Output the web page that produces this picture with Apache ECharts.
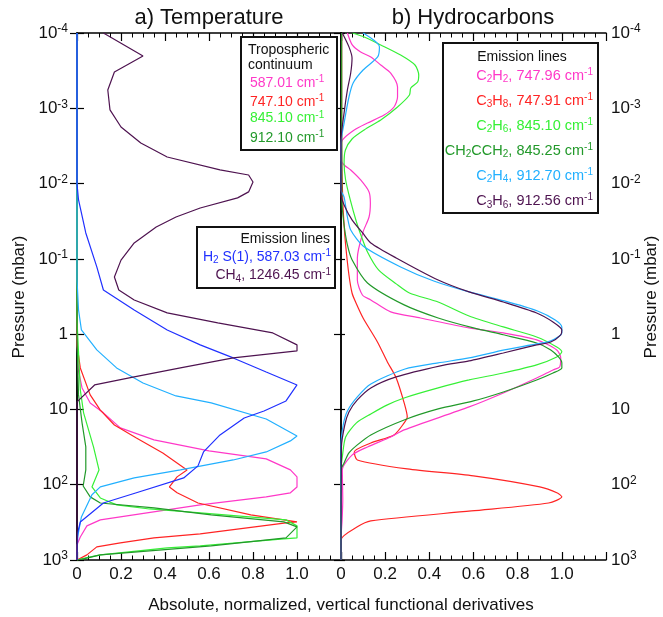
<!DOCTYPE html>
<html>
<head>
<meta charset="utf-8">
<script src="https://cdn.jsdelivr.net/npm/echarts@6/dist/echarts.min.js"></script>
<style>
  html, body { margin: 0; padding: 0; background: #fff; }
  #chart { width: 663px; height: 617px; }
</style>
</head>
<body>
<div id="chart"></div>
<script>
const FONT = '"Liberation Sans", Arial, Helvetica, sans-serif';

// Each profile: [normalized derivative, pressure (mbar)]

// (a) Temperature — tropospheric continuum
const tTrop587 = [[0,1e-4],[0,1.19],[0.006,2.99],[0.023,5.18],[0.06,8.2],[0.12,11.1],[0.197,17.6],[0.35,25.4],[0.6,35.6],[0.86,45.4],[0.97,63.6],[1.0,78.7],[1.0,107],[0.97,128],[0.86,145],[0.56,185],[0.106,293],[0.045,352],[0.015,494],[0,630],[0,1000]];
const tTrop747 = [[0,1e-4],[0,1.39],[0.015,2.81],[0.06,6.41],[0.106,10.2],[0.17,16.1],[0.27,23.9],[0.39,37.8],[0.5,63.6],[0.455,78.7],[0.42,107],[0.455,128],[0.55,175],[0.79,252],[1.0,312],[0.95,321],[0.56,450],[0.35,509],[0.197,593],[0.09,670],[0.045,855],[0,1000]];
const tTrop845 = [[0,1e-4],[0,0.647],[0.015,5.51],[0.03,11.1],[0.075,31.5],[0.1,63.6],[0.068,107],[0.106,150],[0.18,185],[0.33,210],[0.56,237],[0.95,293],[1.0,352],[1.0,509],[0.94,525],[0.56,650],[0.41,690],[0.106,855],[0.04,937],[0,1000]];
const tTrop912 = [[0,1e-4],[0,1.19],[0.007,6.41],[0.023,15.1],[0.04,31.5],[0.04,63.6],[0.028,104],[0.06,145],[0.106,175],[0.35,203],[0.61,252],[0.94,312],[1.0,363],[0.95,509],[0.61,650],[0.106,855],[0.03,966],[0,1000]];
// (a) Temperature — emission lines
const tH2S1 = [[0,1e-4],[0,1.01e-2],[0.007,1.65e-2],[0.04,4.53e-2],[0.09,0.128],[0.12,0.259],[0.26,0.478],[0.41,0.879],[0.56,1.39],[0.71,2.07],[0.86,3.18],[1.0,4.73],[0.95,7.71],[0.85,10.5],[0.76,13.0],[0.65,21.8],[0.575,36.7],[0.55,56.2],[0.485,81.3],[0.27,128],[0.12,175],[0.015,312],[0.003,437],[0,1000]];
const tH2Wing = [[0,1e-4],[0,0.19],[0.007,0.478],[0.02,0.879],[0.09,1.62],[0.18,2.81],[0.3,4.45],[0.45,6.62],[0.61,8.2],[0.86,13.4],[1.0,22.5],[0.97,26.2],[0.86,36.7],[0.71,46.9],[0.47,63.6],[0.26,81.3],[0.106,107],[0.068,136],[0.02,268],[0.003,494],[0,1000]];
const tCH4 = [[0.12,1e-4],[0.3,2.02e-4],[0.17,3.3e-4],[0.14,5.71e-4],[0.15,1.05e-3],[0.2,1.77e-3],[0.29,2.89e-3],[0.41,4.44e-3],[0.65,6.59e-3],[0.78,7.69e-3],[0.8,9.53e-3],[0.78,1.29e-2],[0.73,1.55e-2],[0.56,2.11e-2],[0.45,2.78e-2],[0.36,3.77e-2],[0.26,6.15e-2],[0.2,0.104],[0.17,0.174],[0.19,0.259],[0.26,0.352],[0.41,0.522],[0.64,0.71],[0.89,0.964],[1.0,1.39],[1.0,1.67],[0.71,2.07],[0.47,2.81],[0.26,3.7],[0.08,4.73],[0,7.94],[0,1000]];

// (b) Hydrocarbons — emission lines
const hC2H2 = [[0.029,1e-4],[0.051,1.44e-4],[0.089,1.79e-4],[0.135,2.08e-4],[0.18,2.66e-4],[0.225,3.4e-4],[0.256,5.21e-4],[0.256,7.08e-4],[0.24,9.61e-4],[0.195,1.23e-3],[0.12,1.57e-3],[0.06,1.94e-3],[0.006,2.64e-3],[0,3.27e-3],[0,4.86e-3],[0.014,5.66e-3],[0.044,6.6e-3],[0.089,8.96e-3],[0.127,1.29e-2],[0.133,1.81e-2],[0.127,2.78e-2],[0.1,4.39e-2],[0.074,9.73e-2],[0.074,0.191],[0.097,0.302],[0.135,0.351],[0.225,0.507],[0.36,0.61],[0.58,0.827],[0.735,0.964],[0.886,1.19],[0.977,1.62],[0.995,2.07],[0.99,2.73],[0.96,2.99],[0.886,3.82],[0.735,6.04],[0.58,9.26],[0.286,18.7],[0.225,23.2],[0.12,31.5],[0.051,40.2],[0.006,63.6],[0.008,159],[0.005,293],[0,541],[0,1000]];
const hC3H8 = [[0.003,1e-4],[0.003,3.58e-3],[0.008,1.65e-2],[0.014,3.55e-2],[0.021,6.54e-2],[0.036,0.164],[0.05,0.284],[0.066,0.374],[0.1,0.61],[0.165,1.27],[0.21,2.34],[0.25,3.82],[0.286,8.2],[0.3,12.6],[0.286,15.1],[0.24,21.8],[0.135,27.9],[0.06,36.7],[0.074,46.9],[0.3,61.7],[0.6,76.4],[0.9,107],[0.98,129],[1.0,145],[0.94,175],[0.59,223],[0.135,302],[0.074,363],[0,541],[0,1000]];
const hC2H6 = [[0.052,1e-4],[0.105,1.13e-4],[0.18,1.44e-4],[0.27,1.96e-4],[0.335,2.66e-4],[0.352,3.61e-4],[0.347,4.47e-4],[0.316,5.37e-4],[0.31,6.66e-4],[0.256,9.61e-4],[0.18,1.43e-3],[0.105,1.94e-3],[0.05,2.56e-3],[0.02,3.58e-3],[0.014,5.33e-3],[0.021,8.96e-3],[0.042,1.65e-2],[0.07,3.24e-2],[0.09,4.82e-2],[0.12,8.1e-2],[0.17,0.14],[0.25,0.215],[0.31,0.284],[0.44,0.374],[0.58,0.573],[0.735,0.802],[0.886,1.09],[0.977,1.48],[1.0,1.72],[0.977,2.01],[0.886,2.56],[0.735,3.28],[0.58,4.06],[0.44,5.18],[0.286,7.04],[0.21,8.71],[0.135,11.5],[0.07,15.1],[0.021,23.2],[0.006,42.7],[0,63.6],[0,1000]];
const hCH2CCH2 = [[0.003,1e-4],[0.004,1.65e-2],[0.014,3.55e-2],[0.029,6.54e-2],[0.05,0.103],[0.12,0.209],[0.286,0.409],[0.44,0.61],[0.6,0.827],[0.735,1.02],[0.886,1.31],[0.95,1.62],[0.985,2.01],[1.0,2.41],[1.0,2.81],[0.96,3.28],[0.886,4.06],[0.735,5.86],[0.6,7.71],[0.44,9.85],[0.286,13.8],[0.135,21.8],[0.074,29.6],[0.036,37.8],[0.014,51.3],[0,63.6],[0,1000]];
const hC2H4 = [[0.1,1e-4],[0.174,1.53e-4],[0.166,2.08e-4],[0.1,3.1e-4],[0.055,4.61e-4],[0.036,7.08e-4],[0.014,1.57e-3],[0,2.89e-3],[0,1.22e-2],[0.014,1.51e-2],[0.029,2.78e-2],[0.044,4.13e-2],[0.1,6.74e-2],[0.27,0.128],[0.42,0.197],[0.58,0.275],[0.74,0.362],[0.89,0.492],[0.97,0.648],[1.0,0.802],[1.0,0.964],[0.95,1.23],[0.886,1.35],[0.74,1.62],[0.58,2.07],[0.44,2.41],[0.29,2.9],[0.135,4.59],[0.074,6.82],[0.029,10.5],[0.01,16.1],[0,30],[0,1000]];
const hC3H6 = [[0.006,1e-4],[0.036,1.53e-4],[0.05,2.15e-4],[0.044,3.4e-4],[0.029,5.71e-4],[0.014,1.15e-3],[0,2.64e-3],[0,1.42e-2],[0.014,1.92e-2],[0.05,3.04e-2],[0.098,4.53e-2],[0.135,6.15e-2],[0.25,9.73e-2],[0.44,0.191],[0.58,0.275],[0.735,0.374],[0.886,0.523],[0.96,0.689],[1.0,0.879],[0.995,1.02],[0.95,1.27],[0.886,1.39],[0.735,1.78],[0.58,2.27],[0.45,2.64],[0.25,3.7],[0.135,5.18],[0.074,7.48],[0.036,10.8],[0.017,16.1],[0.002,31.5],[0,1000]];

// axis ticks
const xTicks = [0, 0.2, 0.4, 0.6, 0.8, 1.0];
const pressureDecades = [-4, -3, -2, -1, 0, 1, 2, 3];

const COL = {
  magenta: '#ff38c8', red: '#ff2424', green: '#36f036', dkgreen: '#22992a',
  blue: '#2030ff', cyan: '#22b0ff', purple: '#4e1350'
};

function xLabel(v) {
  if (Math.abs(v) < 1e-9) return '0';
  if (v > 1.05) return '';
  return v.toFixed(1);
}
function pLabel(v) {
  const e = Math.round(Math.log10(v));
  if (e === 0) return '{b|1}';
  if (e === 1) return '{b|10}';
  return '{b|10}{e|' + e + '}';
}
const yRich = {
  b: { fontSize: 17, fontFamily: FONT, color: '#111', lineHeight: 20 },
  e: { fontSize: 12, fontFamily: FONT, color: '#111', verticalAlign: 'top', lineHeight: 12 }
};

function xAxisDef(gi, top) {
  return {
    gridIndex: gi, type: 'value', min: 0, max: 1.2, interval: 0.2,
    position: top ? 'top' : 'bottom',
    axisLine: { show: true, lineStyle: { color: '#000', width: 1.5 } },
    axisTick: { show: true, inside: true, length: 8, lineStyle: { color: '#000', width: 1.2 } },
    minorTick: { show: true, splitNumber: 4, length: 4.5, lineStyle: { color: '#000', width: 1 } },
    axisLabel: { show: !top, formatter: xLabel, fontSize: 17, fontFamily: FONT, color: '#111', margin: 6 },
    splitLine: { show: false }
  };
}
function yAxisDef(gi, side, labels, tickLen) {
  return {
    gridIndex: gi, type: 'log', logBase: 10, min: 1e-4, max: 1e3, splitNumber: 7,
    inverse: true, position: side,
    axisLine: { show: true, lineStyle: { color: '#000', width: 1.5 } },
    axisTick: { show: tickLen > 0, inside: true, length: tickLen, lineStyle: { color: '#000', width: 1.2 } },
    axisLabel: { show: labels, formatter: pLabel, rich: yRich, margin: side === 'left' ? 9 : 5 },
    splitLine: { show: false }, minorTick: { show: false }
  };
}

function line(data, color, gi) {
  return {
    type: 'line', data: data, xAxisIndex: gi * 2, yAxisIndex: gi * 2,
    showSymbol: false, symbol: 'none', animation: false,
    smooth: gi === 1 ? 0.25 : false,
    lineStyle: { color: color, width: 1.2 }, itemStyle: { color: color }
  };
}

function richText(x, y, str, color, align, size) {
  const s = size;
  const ss = Math.round(s * 0.68);
  return {
    type: 'text', x: x, y: y, z: 20,
    style: {
      text: str, align: align, verticalAlign: 'middle',
      fontSize: s, fontFamily: FONT, fill: color,
      rich: {
        n: { fontSize: s, fontFamily: FONT, fill: color, lineHeight: s + 3 },
        sub: { fontSize: ss, fontFamily: FONT, fill: color, verticalAlign: 'bottom', lineHeight: ss },
        sup: { fontSize: ss, fontFamily: FONT, fill: color, verticalAlign: 'top', lineHeight: ss }
      }
    }
  };
}
function box(x, y, w, h) {
  return { type: 'rect', z: 19, shape: { x: x, y: y, width: w, height: h },
    style: { fill: '#fff', stroke: '#111', lineWidth: 2 } };
}

const tropLabels = [['587.01', COL.magenta], ['747.10', COL.red], ['845.10', COL.green], ['912.10', COL.dkgreen]];
const tropRows = [83, 102, 118.5, 138];
const emisLabelsA = [
  ['{n|H}{sub|2}{n| S(1), 587.03 cm}{sup|-1}', COL.blue],
  ['{n|CH}{sub|4}{n|, 1246.45 cm}{sup|-1}', COL.purple]
];
const emisLabelsB = [
  ['{n|C}{sub|2}{n|H}{sub|2}{n|, 747.96 cm}{sup|-1}', COL.magenta],
  ['{n|C}{sub|3}{n|H}{sub|8}{n|, 747.91 cm}{sup|-1}', COL.red],
  ['{n|C}{sub|2}{n|H}{sub|6}{n|, 845.10 cm}{sup|-1}', COL.green],
  ['{n|CH}{sub|2}{n|CCH}{sub|2}{n|, 845.25 cm}{sup|-1}', COL.dkgreen],
  ['{n|C}{sub|2}{n|H}{sub|4}{n|, 912.70 cm}{sup|-1}', COL.cyan],
  ['{n|C}{sub|3}{n|H}{sub|6}{n|, 912.56 cm}{sup|-1}', COL.purple]
];

const graphics = [
  { type: 'text', x: 209, y: 18, style: { text: 'a) Temperature', align: 'center', verticalAlign: 'middle', fontSize: 22, fontFamily: FONT, fill: '#111' } },
  { type: 'text', x: 473, y: 18, style: { text: 'b) Hydrocarbons', align: 'center', verticalAlign: 'middle', fontSize: 22, fontFamily: FONT, fill: '#111' } },
  { type: 'text', x: 341, y: 605, style: { text: 'Absolute, normalized, vertical functional derivatives', align: 'center', verticalAlign: 'middle', fontSize: 17, fontFamily: FONT, fill: '#111' } },
  { type: 'text', x: 19, y: 297, rotation: Math.PI / 2, style: { text: 'Pressure (mbar)', align: 'center', verticalAlign: 'middle', fontSize: 17, fontFamily: FONT, fill: '#111' } },
  { type: 'text', x: 651, y: 297, rotation: Math.PI / 2, style: { text: 'Pressure (mbar)', align: 'center', verticalAlign: 'middle', fontSize: 17, fontFamily: FONT, fill: '#111' } },

  box(241, 37, 96, 113),
  { type: 'text', x: 248, y: 50, z: 20, style: { text: 'Tropospheric', align: 'left', verticalAlign: 'middle', fontSize: 14, fontFamily: FONT, fill: '#111' } },
  { type: 'text', x: 248, y: 65, z: 20, style: { text: 'continuum', align: 'left', verticalAlign: 'middle', fontSize: 14, fontFamily: FONT, fill: '#111' } },

  box(197, 227, 138, 61),
  { type: 'text', x: 330, y: 239, z: 20, style: { text: 'Emission lines', align: 'right', verticalAlign: 'middle', fontSize: 14, fontFamily: FONT, fill: '#111' } },

  box(443, 43, 155, 170),
  { type: 'text', x: 522, y: 57, z: 20, style: { text: 'Emission lines', align: 'center', verticalAlign: 'middle', fontSize: 14, fontFamily: FONT, fill: '#111' } }
];
tropLabels.forEach(function (t, i) {
  graphics.push(richText(250, tropRows[i], '{n|' + t[0] + ' cm}{sup|-1}', t[1], 'left', 14));
});
emisLabelsA.forEach(function (t, i) {
  graphics.push(richText(331, 257 + i * 18.5, t[0], t[1], 'right', 14));
});
emisLabelsB.forEach(function (t, i) {
  graphics.push(richText(593, 75.5 + i * 25.1, t[0], t[1], 'right', 14.5));
});

const option = {
  backgroundColor: '#fff',
  animation: false,
  grid: [
    { left: 77, top: 33, width: 264, height: 527 },
    { left: 341, top: 33, width: 265, height: 527 }
  ],
  xAxis: [xAxisDef(0, false), xAxisDef(0, true), xAxisDef(1, false), xAxisDef(1, true)],
  yAxis: [
    yAxisDef(0, 'left', true, 7),
    yAxisDef(0, 'right', false, 7),
    yAxisDef(1, 'left', false, 4),
    yAxisDef(1, 'right', true, 7)
  ],
  series: [
    line(tTrop587, COL.magenta, 0),
    line(tTrop747, COL.red, 0),
    line(tTrop845, COL.green, 0),
    line(tTrop912, COL.dkgreen, 0),
    line(tH2Wing, COL.cyan, 0),
    line(tH2S1, COL.blue, 0),
    line(tCH4, COL.purple, 0),
    line(hC3H8, COL.red, 1),
    line(hC2H2, COL.magenta, 1),
    line(hC2H6, COL.green, 1),
    line(hCH2CCH2, COL.dkgreen, 1),
    line(hC2H4, COL.cyan, 1),
    line(hC3H6, COL.purple, 1)
  ],
  graphic: graphics
};

const chart = echarts.init(document.getElementById('chart'), null, { renderer: 'canvas' });
chart.setOption(option);
</script>
</body>
</html>
